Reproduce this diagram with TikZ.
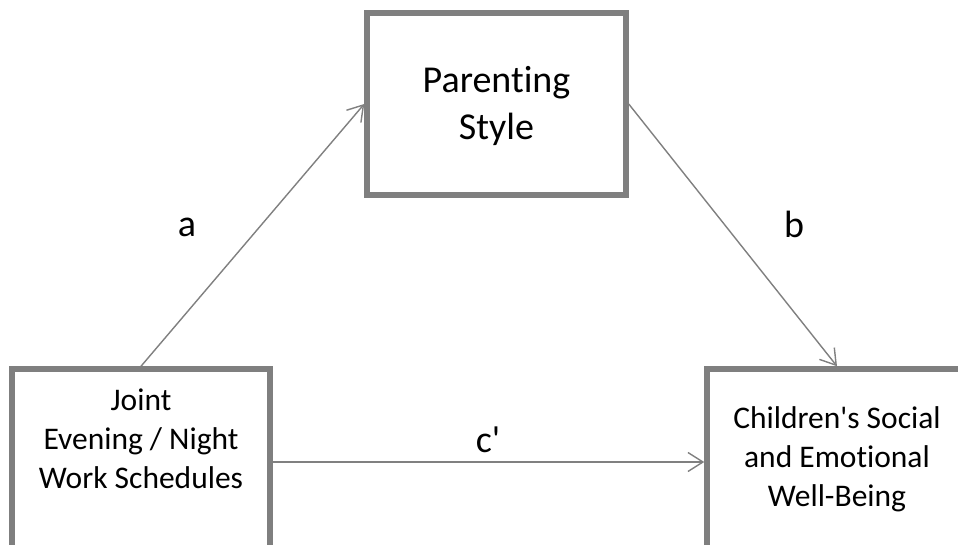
\documentclass[tikz,border=0pt]{standalone}
\usepackage{fontspec}
\setmainfont{Carlito}[Ligatures={TeXOff,CommonOff}]
\usetikzlibrary{arrows.meta}
\definecolor{boxgray}{HTML}{7F7F7F}
\definecolor{arrowgray}{HTML}{808080}
\tikzset{
  varbox/.style={draw=boxgray, line width=5.5pt, rectangle, inner sep=0pt},
  conn/.style={draw=arrowgray, line width=1.4pt, -{Straight Barb[length=15pt,width=19pt]}},
  bigtext/.style={anchor=base, inner sep=0pt, font=\fontsize{38}{47}\selectfont},
  smalltext/.style={anchor=base, inner sep=0pt, font=\fontsize{31.5}{39}\selectfont},
  pathlabel/.style={anchor=base, inner sep=0pt, font=\fontsize{38}{47}\selectfont}
}
\begin{document}
\begin{tikzpicture}[x=1pt, y=-1pt]
\useasboundingbox[fill=white] (0,0) rectangle (958,545);
% boxes
\node[varbox, minimum width=259pt, minimum height=182pt] (ps) at (496.5,104) {};
\node[varbox, minimum width=258pt, minimum height=186pt] (js) at (141,462) {};
\node[varbox, minimum width=260pt, minimum height=186pt] (cw) at (837,462) {};
% box texts
\node[bigtext] (pstext) at (496.5,93) {\begin{tabular}[t]{@{}c@{}}Parenting\\Style\end{tabular}};
\node[smalltext] (jstext) at (141,410) {\begin{tabular}[t]{@{}c@{}}Joint\\Evening / Night\\Work Schedules\end{tabular}};
\node[smalltext] (cwtext) at (837,428) {\begin{tabular}[t]{@{}c@{}}Children's Social\\and Emotional\\Well-Being\end{tabular}};
% connectors
\draw[conn] (js.north) -- (ps.west);
\draw[conn] (ps.east) -- (cw.north);
\draw[conn] (js.east) -- (cw.west);
% labels
\node[pathlabel] (la) at (187,237) {a};
\node[pathlabel] (lb) at (794,238) {b};
\node[pathlabel] (lc) at (488,452) {c'};
\end{tikzpicture}
\end{document}
